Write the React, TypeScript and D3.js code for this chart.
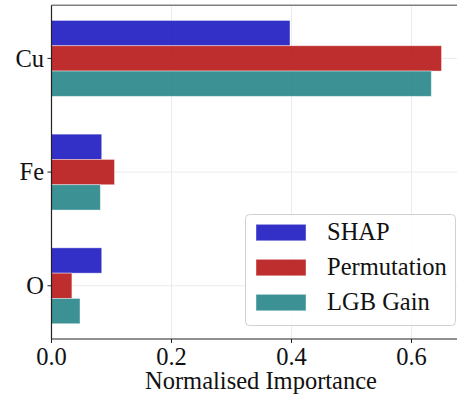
import React from "react";
import * as d3 from "d3";

const categories = ["Cu", "Fe", "O"];
const seriesNames = ["SHAP", "Permutation", "LGB Gain"];
const shapValues = [0.3975, 0.0837, 0.0837];
const permutationValues = [0.65, 0.105, 0.034];
const lgbGainValues = [0.633, 0.0814, 0.0475];
const xTicks = [0.0, 0.2, 0.4, 0.6];
const xLabel = "Normalised Importance";
const seriesColors = ["#1d19c2", "#b71718", "#27858a"];

const W = 457;
const H = 397;
const FONT = "Liberation Serif, Tinos, DejaVu Serif, serif";

export default function App() {
  const series = [shapValues, permutationValues, lgbGainValues];
  const x = d3.scaleLinear().domain([0, 0.7]).range([51.5, 471.5]);
  const y = d3.scaleLinear().domain([-0.467, 2.468]).range([5.3, 339]);
  const barH = 0.2225;
  const plotLeft = 51.5;
  const plotTop = 5.3;
  const plotBottom = 339;
  const fs = 24.5;
  const ts: React.CSSProperties = { fontFamily: FONT, fontSize: fs };

  return (
    <svg
      width={W}
      height={H}
      style={{ position: "absolute", left: 0, top: 0, background: "#fff" }}
    >
      <rect x={0} y={0} width={W} height={H} fill="#fff" />
      {/* grid */}
      {xTicks.slice(1).map((t) => (
        <line key={"gx" + t} x1={x(t)} x2={x(t)} y1={plotTop} y2={plotBottom} stroke="#ebebeb" strokeWidth={1} />
      ))}
      {categories.map((c, i) => (
        <line key={"gy" + c} x1={plotLeft} x2={W} y1={y(i)} y2={y(i)} stroke="#ebebeb" strokeWidth={1} />
      ))}
      {/* bars */}
      {series.map((vals, s) =>
        vals.map((v, i) => {
          const center = i + (s - 1) * barH;
          const y0 = y(center - barH / 2);
          const y1 = y(center + barH / 2);
          return (
            <rect
              key={`b${s}-${i}`}
              x={x(0)}
              y={y0}
              width={x(v) - x(0)}
              height={y1 - y0}
              fill={seriesColors[s]}
              fillOpacity={0.9}
              stroke="#ffffff"
              strokeOpacity={0.5}
              strokeWidth={0.8}
            />
          );
        })
      )}
      {/* spines */}
      <line x1={plotLeft} x2={W} y1={plotTop} y2={plotTop} stroke="#808080" strokeWidth={1.5} />
      <line x1={plotLeft} x2={plotLeft} y1={plotTop} y2={plotBottom} stroke="#222" strokeWidth={1.2} />
      <line x1={plotLeft} x2={W} y1={plotBottom} y2={plotBottom} stroke="#222" strokeWidth={1.2} />
      {/* x ticks */}
      {xTicks.map((t) => (
        <g key={"xt" + t}>
          <line x1={x(t)} x2={x(t)} y1={plotBottom} y2={plotBottom + 4} stroke="#222" strokeWidth={1} />
          <text x={x(t)} y={364.5} textAnchor="middle" style={ts} fill="#111">
            {d3.format(".1f")(t)}
          </text>
        </g>
      ))}
      {/* y ticks */}
      {categories.map((c, i) => (
        <g key={"yt" + c}>
          <line x1={plotLeft - 4} x2={plotLeft} y1={y(i)} y2={y(i)} stroke="#222" strokeWidth={1} />
          <text x={plotLeft - 7.5} y={y(i) + 8.3} textAnchor="end" style={ts} fill="#111">
            {c}
          </text>
        </g>
      ))}
      <text x={261} y={388.5} textAnchor="middle" style={ts} fill="#111">
        {xLabel}
      </text>
      {/* legend */}
      <rect x={245.5} y={214.5} width={210} height={111} rx={4} ry={4} fill="#fff" fillOpacity={0.9} stroke="#d0d0d0" strokeWidth={1} />
      {seriesNames.map((n, s) => {
        const top = 224.3 + s * 35;
        return (
          <g key={"lg" + n}>
            <rect x={256} y={top} width={50} height={16.5} fill={seriesColors[s]} fillOpacity={0.9} stroke="#fff" strokeOpacity={0.5} strokeWidth={0.8} />
            <text x={327} y={top + 16} style={ts} fill="#111">
              {n}
            </text>
          </g>
        );
      })}
    </svg>
  );
}
